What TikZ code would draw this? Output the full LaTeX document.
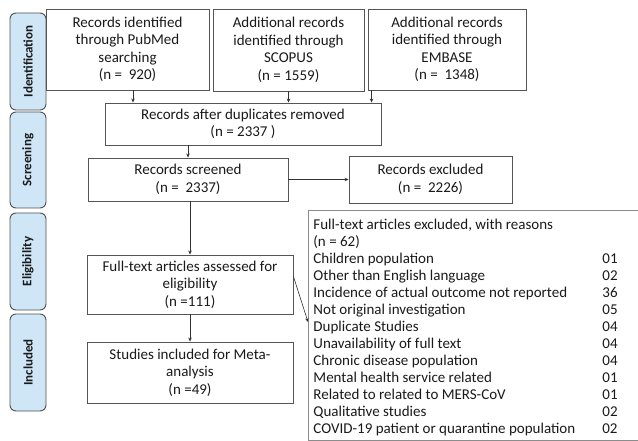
\documentclass[tikz,border=0pt]{standalone}
\usepackage{fontspec}
\setmainfont{Carlito}
\usetikzlibrary{arrows.meta,calc}
\definecolor{sidefill}{HTML}{CFE6F7}
\definecolor{sideline}{HTML}{505050}
\definecolor{boxline}{HTML}{555555}
\definecolor{txt}{HTML}{1A1A1A}
\tikzset{
  flowbox/.style={draw=boxline, line width=0.9pt, fill=white, align=center, text=txt,
    font=\fontsize{15pt}{17.5pt}\selectfont, inner sep=0pt},
  sidebox/.style={draw=sideline, line width=0.9pt, fill=sidefill, rounded corners=6pt,
    minimum width=36pt, text=txt, font=\fontsize{13pt}{15pt}\selectfont\bfseries},
  arr/.style={-{Stealth[length=4pt,width=3.5pt]}, draw=black!80, line width=0.6pt}
}
\newcommand{\reason}[2]{\makebox[289pt][l]{#1}#2}
\begin{document}
\begin{tikzpicture}[x=1pt,y=-1pt]
\useasboundingbox (0,0) rectangle (638,441);
\clip (0,0) rectangle (638,441);
% side labels
\node[sidebox, minimum height=97pt] (sid) at (28,61.5) {\rotatebox{90}{Identification}};
\node[sidebox, minimum height=96pt] (ssc) at (28,160) {\rotatebox{90}{Screening}};
\node[sidebox, minimum height=97pt] (sel) at (28,261.5) {\rotatebox{90}{Eligibility}};
\node[sidebox, minimum height=97pt] (sin) at (28,362.5) {\rotatebox{90}{Included}};
% boxes
\node[flowbox, minimum width=163pt, minimum height=81pt] (b1) at (127.5,49.5)
  {Records identified\\through PubMed\\searching\\(n =\ \ 920)};
\node[flowbox, minimum width=151pt, minimum height=82pt] (b2) at (288.5,50)
  {Additional records\\identified through\\SCOPUS\\(n = 1559)};
\node[flowbox, minimum width=158pt, minimum height=81pt] (b3) at (447,49.5)
  {Additional records\\identified through\\EMBASE\\(n =\ \ 1348)};
\node[flowbox, minimum width=276pt, minimum height=42pt] (dup) at (243,124)
  {Records after duplicates removed\\(n = 2337 )};
\node[flowbox, minimum width=200pt, minimum height=43pt] (scr) at (188,179.5)
  {Records screened\\(n =\ \ 2337)};
\node[flowbox, minimum width=163pt, minimum height=47pt] (exc) at (430.5,179.5)
  {Records excluded\\(n =\ \ 2226)};
\node[flowbox, minimum width=206pt, minimum height=59pt] (ft) at (190,284.5)
  {Full-text articles assessed for\\eligibility\\(n =111)};
\node[flowbox, minimum width=206pt, minimum height=61pt] (inc) at (190,372.5)
  {Studies included for Meta-\\analysis\\(n =49)};
\node[flowbox, draw=black!45, anchor=north west, minimum width=340pt, minimum height=230pt] (rea) at (308,210) {};
\node[flowbox, draw=none, fill=none, anchor=north west, align=left,
  font=\fontsize{15pt}{17pt}\selectfont] (reat) at ($(rea.north west)+(5,8.5)$)
  {\reason{Full-text articles excluded, with reasons}{}\\
   \reason{(n = 62)}{}\\
   \reason{Children population}{01}\\
   \reason{Other than English language}{02}\\
   \reason{Incidence of actual outcome not reported}{36}\\
   \reason{Not original investigation}{05}\\
   \reason{Duplicate Studies}{04}\\
   \reason{Unavailability of full text}{04}\\
   \reason{Chronic disease population}{04}\\
   \reason{Mental health service related}{01}\\
   \reason{Related to related to MERS-CoV}{01}\\
   \reason{Qualitative studies}{02}\\
   \reason{COVID-19 patient or quarantine population}{02}};
% connectors
\coordinate (a1) at ($(b1.south)+(5.5,0)$);
\coordinate (a3) at ($(b3.south west)+(4,0)$);
\draw[arr] (a1) -- (a1 |- dup.north);
\draw[arr] (b2.south) -- (b2.south |- dup.north);
\draw[arr] (a3) -- (a3 |- dup.north);
\draw[arr] (dup.south -| scr.north) -- (scr.north);
\draw[arr] (scr.east) -- (exc.west);
\draw[arr] (scr.south -| ft.north) -- (ft.north);
\draw[arr] (ft.south) -- (inc.north);
\coordinate (d1) at ($(ft.north east)+(0,22)$);
\coordinate (d2) at ($(rea.north west)+(0,112)$);
\draw[arr] (d1) -- (d2);
\end{tikzpicture}
\end{document}
